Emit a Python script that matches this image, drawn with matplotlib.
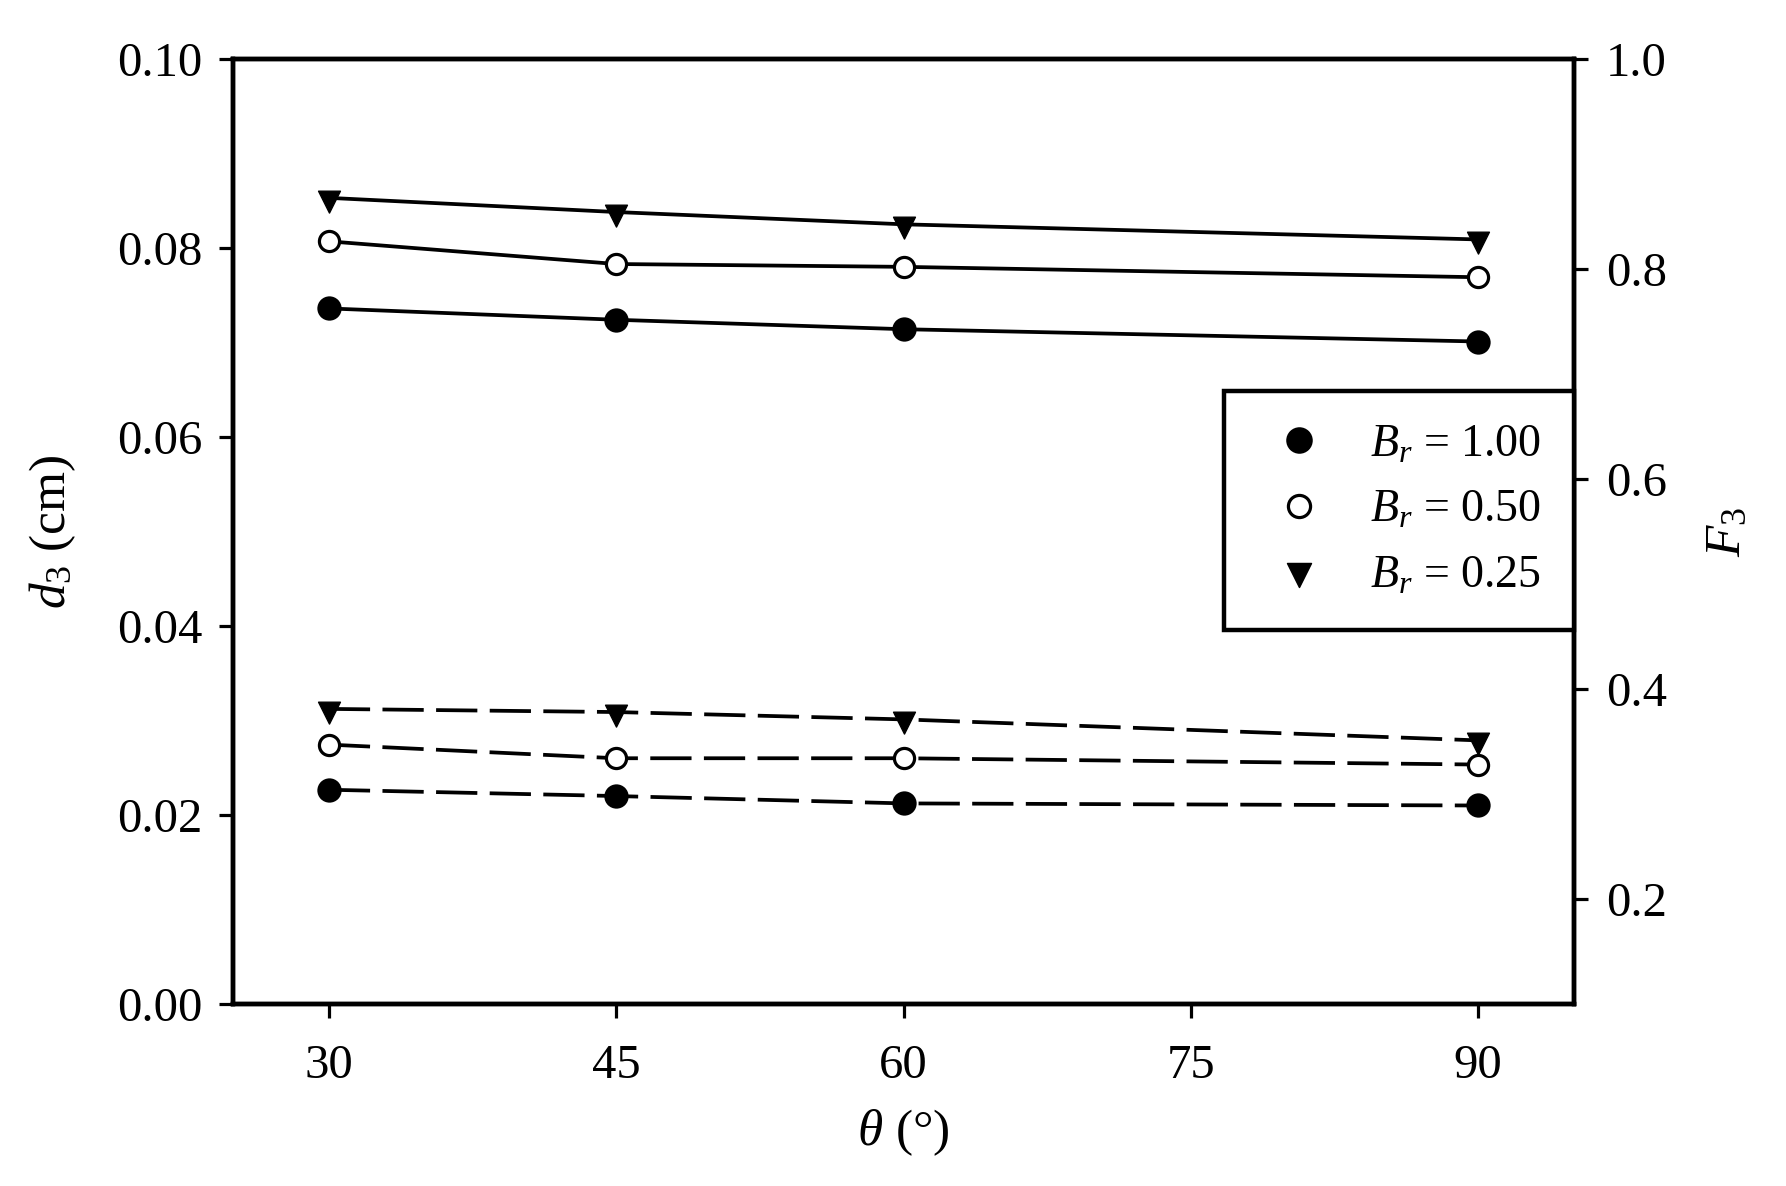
import matplotlib
matplotlib.use("Agg")
import matplotlib.pyplot as plt
from matplotlib.lines import Line2D
from matplotlib.path import Path
from matplotlib.ticker import FormatStrFormatter, MultipleLocator

plt.rcParams['font.family'] = ['Liberation Serif', 'DejaVu Serif']
plt.rcParams['mathtext.fontset'] = 'custom'
plt.rcParams['mathtext.rm'] = 'Liberation Serif'
plt.rcParams['mathtext.it'] = 'Liberation Serif:italic'

# data
theta = [30, 45, 60, 90]
d3_br100 = [0.0736, 0.0724, 0.0714, 0.0701]
d3_br050 = [0.0807, 0.0783, 0.0780, 0.0769]
d3_br025 = [0.0853, 0.0838, 0.0825, 0.0809]
f3_br100 = [0.304, 0.298, 0.291, 0.289]
f3_br050 = [0.347, 0.334, 0.334, 0.328]
f3_br025 = [0.381, 0.378, 0.371, 0.351]
legend_labels = [r'$B_r$ = 1.00', r'$B_r$ = 0.50', r'$B_r$ = 0.25']

# down triangle centred on its centroid (like SigmaPlot)
tri = Path([(-1.0, 0.667), (1.0, 0.667), (0.0, -1.333), (-1.0, 0.667)],
           [Path.MOVETO, Path.LINETO, Path.LINETO, Path.CLOSEPOLY])

fig = plt.figure(figsize=(17.86, 11.86), dpi=100)
ax = fig.add_axes([0.1305, 0.1535, 0.7508, 0.7968])
ax2 = ax.twinx()

lw = 2.7
styles = [dict(marker='o', mfc='black', mec='black', ms=16, mew=1.5),
          dict(marker='o', mfc='white', mec='black', ms=14.5, mew=2.3),
          dict(marker=tri, mfc='black', mec='black', ms=21, mew=1)]

for y, st in zip([d3_br100, d3_br050, d3_br025], styles):
    ax.plot(theta, y, color='black', lw=lw, zorder=3, **st)
for y, st in zip([f3_br100, f3_br050, f3_br025], styles):
    ax2.plot(theta, y, color='black', lw=lw, dashes=(11, 3.3), zorder=3, **st)

ax.set_xlim(25, 95)
ax.set_ylim(0, 0.10)
ax2.set_ylim(0.1, 1.0)
ax.xaxis.set_major_locator(MultipleLocator(15))
ax.yaxis.set_major_locator(MultipleLocator(0.02))
ax2.set_yticks([0.2, 0.4, 0.6, 0.8, 1.0])
ax.yaxis.set_major_formatter(FormatStrFormatter('%.2f'))
ax2.yaxis.set_major_formatter(FormatStrFormatter('%.1f'))

for a in (ax, ax2):
    for sp in a.spines.values():
        sp.set_linewidth(3.2)
    a.tick_params(direction='out', length=10, width=2.3, labelsize=35)
ax.tick_params(axis='x', pad=19)
ax.tick_params(axis='y', pad=12)
ax2.tick_params(axis='y', pad=13)

ax.set_xlabel(r'$\theta$ (°)', fontsize=37, labelpad=14)
ax.set_ylabel(r'$d_\mathit{3}$ (cm)', fontsize=37, labelpad=28)
ax2.set_ylabel(r'$F_\mathit{3}$', fontsize=37, labelpad=27)

handles = [Line2D([], [], linestyle='none', color='black', **st) for st in styles]
leg = ax2.legend(handles, legend_labels, loc='upper right',
                 bbox_to_anchor=(1.0, 0.6487), borderaxespad=0, fontsize=33,
                 frameon=True, fancybox=False, framealpha=1, edgecolor='black',
                 borderpad=0.72, labelspacing=0.5, handlelength=1.8,
                 handletextpad=0.66, numpoints=1, markerscale=1.1)
leg.get_frame().set_linewidth(3.2)

fig.savefig('out.png', dpi=100)
